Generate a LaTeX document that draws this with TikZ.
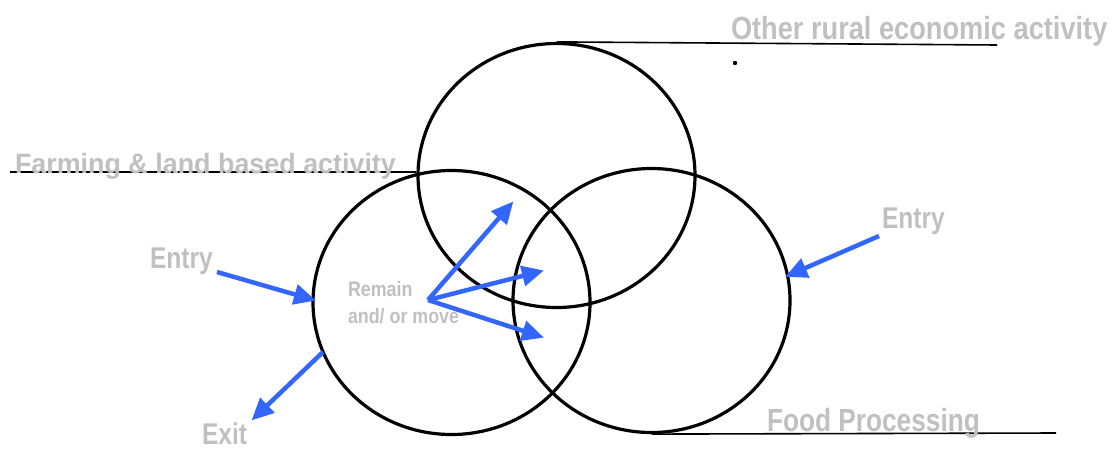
\documentclass[tikz,border=0pt]{standalone}
\usepackage{fontspec}
\setmainfont{Liberation Sans}
\usetikzlibrary{shapes.geometric,arrows.meta}
\definecolor{labgrey}{HTML}{C0C0C0}
\definecolor{arrowblue}{HTML}{3366FF}
\tikzset{
  ring/.style={draw=black, line width=3.2pt, ellipse, minimum width=277pt, minimum height=264pt, inner sep=0pt},
  lab/.style={text=labgrey, font=\bfseries, anchor=base west, inner sep=0pt, outer sep=0pt},
  flow/.style={draw=arrowblue, line width=4.5pt, -{Triangle[length=22pt,width=20pt]}, shorten >=-2pt},
  leader/.style={draw=black, line width=1.6pt}
}
\newcommand{\narrowtxt}[2]{\scalebox{#1}[1]{#2}}
\begin{document}
\begin{tikzpicture}[x=1pt,y=-1pt]
\useasboundingbox (0,0) rectangle (1115,450);
% circles
\node[ring] (top) at (556.5,175.5) {};
\node[ring] (left) at (451.5,302.5) {};
\node[ring] (right) at (651.5,300.5) {};
% leader lines
\coordinate (topend) at (997,45);
\coordinate (leftstart) at (10,172);
\coordinate (botend) at (1056,433);
\draw[leader] (top.north) -- (topend);
\draw[leader] (leftstart) -- (leftstart -| top.west);
\draw[leader] (right.south) -- (botend);
% dot
\fill (735,63) circle (2.2pt);
% labels
\node[lab, font=\bfseries\fontsize{32}{36}\selectfont] (other) at (731,39) {\narrowtxt{0.85}{Other rural economic activity}};
\node[lab, font=\bfseries\fontsize{28}{32}\selectfont] (farm) at (15,173) {\narrowtxt{0.96}{Farming \& land based activity}};
\node[lab, font=\bfseries\fontsize{32}{36}\selectfont] (food) at (767,431) {\narrowtxt{0.82}{Food Processing}};
\node[lab, font=\bfseries\fontsize{30}{34}\selectfont] (entryL) at (150,268) {\narrowtxt{0.82}{Entry}};
\node[lab, font=\bfseries\fontsize{30}{34}\selectfont] (exit) at (202,444) {\narrowtxt{0.82}{Exit}};
\node[lab, font=\bfseries\fontsize{30}{34}\selectfont] (entryR) at (882,228) {\narrowtxt{0.82}{Entry}};
\node[lab, font=\bfseries\fontsize{21}{24}\selectfont] (remain) at (348,296) {\narrowtxt{0.85}{Remain}};
\node[lab, font=\bfseries\fontsize{21}{24}\selectfont] (andor) at (348,323) {\narrowtxt{0.85}{and/ or move}};
% arrow coordinates
\coordinate (eLs) at (217,272);
\coordinate (eLt) at (314,300);
\coordinate (exs) at (323,352);
\coordinate (ext) at (253,419);
\coordinate (eRs) at (879,236);
\coordinate (eRt) at (787,276);
\coordinate (hub) at (428,300);
\coordinate (m1) at (512,203);
\coordinate (m2) at (542,271);
\coordinate (m3) at (542,337);
% arrows
\draw[flow] (eLs) -- (eLt);
\draw[flow] (exs) -- (ext);
\draw[flow] (eRs) -- (eRt);
\draw[flow] (hub) -- (m1);
\draw[flow] (hub) -- (m2);
\draw[flow] (hub) -- (m3);
\end{tikzpicture}
\end{document}
